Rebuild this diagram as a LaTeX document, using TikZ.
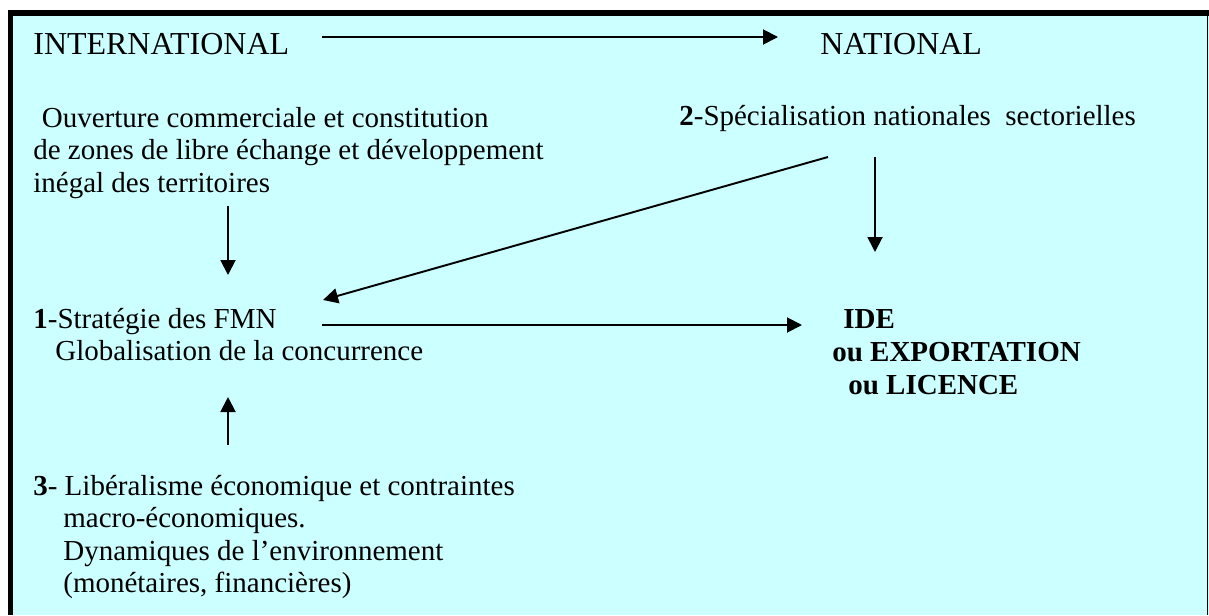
\documentclass[tikz,border=0pt]{standalone}
\usepackage{fontspec}
\setmainfont{Liberation Serif}
\usetikzlibrary{arrows.meta}
\definecolor{paleCyan}{HTML}{CCFFFF}
\newcommand{\lines}[1]{\begin{tabular}[t]{@{}l@{}}#1\end{tabular}}
\tikzset{
	txt/.style={anchor=base west, inner sep=0pt, font=\fontsize{16.5}{18.5}\selectfont},
	headtxt/.style={anchor=base west, inner sep=0pt, font=\fontsize{18.2}{20}\selectfont},
	link/.style={line width=1.1pt, -{Triangle[length=0.3cm,width=0.3cm]}},
}
\begin{document}
\begin{tikzpicture}[x=0.02cm,y=-0.02cm]
\useasboundingbox (0,0) rectangle (1209,615);
\fill[paleCyan] (8,10) rectangle (1209,615);
\draw[line width=3.2pt] (10.5,615) -- (10.5,13) -- (1209,13);
\draw[line width=1pt] (1207.5,13) -- (1207.5,615);

\node[headtxt] (intl) at (33,55) {INTERNATIONAL};
\node[headtxt] (natl) at (820,55) {NATIONAL};

\node[txt] (ouv) at (33,127) {\lines{\hspace*{0.17cm}Ouverture commerciale et constitution\\de zones de libre échange et développement\\inégal des territoires}};
\node[txt] (spec) at (679,125) {\textbf{2}-Spécialisation nationales\ \ sectorielles};
\node[txt] (strat) at (33,328) {\lines{\textbf{1}-Stratégie des FMN\\\hspace*{0.44cm}Globalisation de la concurrence}};
\node[txt, font=\fontsize{16.5}{19}\selectfont\bfseries] (ide) at (832,328) {\lines{\hspace*{0.22cm}IDE\\ou EXPORTATION\\\hspace*{0.32cm}ou LICENCE}};
\node[txt] (lib) at (33,495) {\lines{\textbf{3}- Libéralisme économique et contraintes\\\hspace*{0.6cm}macro-économiques.\\\hspace*{0.6cm}Dynamiques de l’environnement\\\hspace*{0.6cm}(monétaires, financières)}};

\coordinate (intlE) at (322,37);
\coordinate (natlW) at (778,37);
\coordinate (ouvS) at (228,206);
\coordinate (stratN) at (228,275);
\coordinate (stratNE) at (323,300);
\coordinate (stratE) at (322,325);
\coordinate (stratS) at (228,397);
\coordinate (specSW) at (828,157);
\coordinate (specS) at (875,157);
\coordinate (ideN) at (875,252);
\coordinate (ideW) at (802,325);
\coordinate (libN) at (228,445);

\draw[link] (intlE) -- (natlW);
\draw[link] (ouvS) -- (stratN);
\draw[link] (specSW) -- (stratNE);
\draw[link] (specS) -- (ideN);
\draw[link] (stratE) -- (ideW);
\draw[link] (libN) -- (stratS);
\end{tikzpicture}
\end{document}
